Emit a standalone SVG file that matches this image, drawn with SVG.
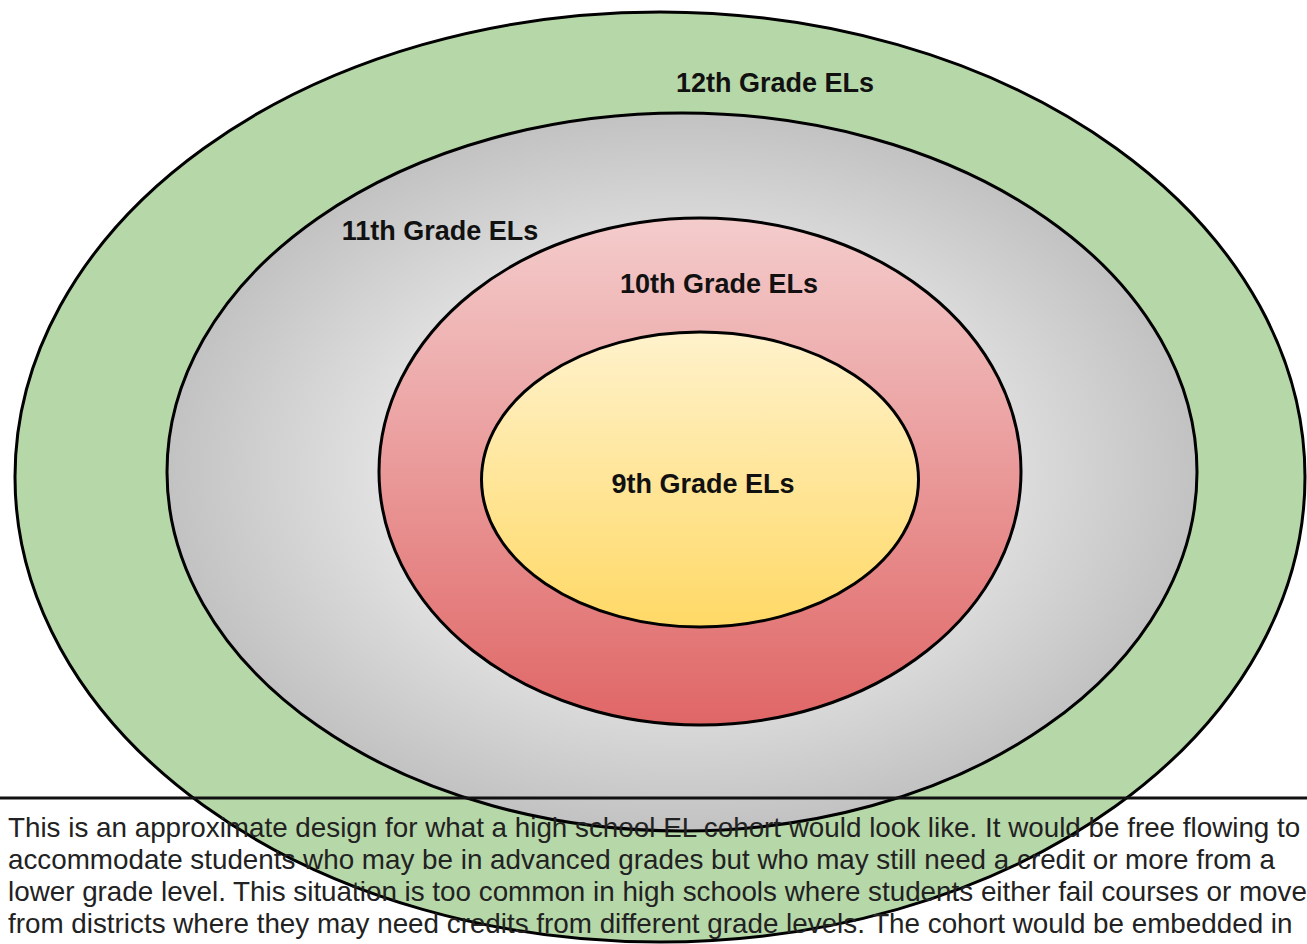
<svg xmlns="http://www.w3.org/2000/svg" width="1307" height="944" viewBox="0 0 1307 944">
  <defs>
    <radialGradient id="gGray" cx="0.5" cy="0.5" r="0.5">
      <stop offset="0" stop-color="#f2f2f2"/>
      <stop offset="0.6" stop-color="#e0e0e0"/>
      <stop offset="1" stop-color="#c2c2c2"/>
    </radialGradient>
    <linearGradient id="gRed" x1="0" y1="0" x2="0" y2="1">
      <stop offset="0" stop-color="#f4cccc"/>
      <stop offset="1" stop-color="#e06666"/>
    </linearGradient>
    <linearGradient id="gYellow" x1="0" y1="0" x2="0" y2="1">
      <stop offset="0" stop-color="#fff2cc"/>
      <stop offset="1" stop-color="#ffd966"/>
    </linearGradient>
  </defs>
  <style>
    .ring { stroke: #000; stroke-width: 3; }
    .label { font-family: "Liberation Sans", Arial, sans-serif; font-weight: bold; font-size: 27px; fill: #111; text-anchor: middle; }
    .body { font-family: "Liberation Sans", Arial, sans-serif; font-size: 27.8px; fill: #222; }
  </style>
  <rect width="1307" height="944" fill="#ffffff"/>
  <g id="grade12">
    <ellipse class="ring" cx="660" cy="477" rx="645" ry="465" fill="#b6d7a8"/>
    <text class="label" x="775" y="92">12th Grade ELs</text>
  </g>
  <g id="grade11">
    <ellipse class="ring" cx="682" cy="472" rx="515" ry="359" fill="url(#gGray)"/>
    <text class="label" x="440" y="240">11th Grade ELs</text>
  </g>
  <g id="grade10">
    <ellipse class="ring" cx="700" cy="471.5" rx="321" ry="253.5" fill="url(#gRed)"/>
    <text class="label" x="719" y="293">10th Grade ELs</text>
  </g>
  <g id="grade9">
    <ellipse class="ring" cx="700" cy="479.5" rx="218.5" ry="147.5" fill="url(#gYellow)"/>
    <text class="label" x="703" y="493">9th Grade ELs</text>
  </g>
  <g id="connectors"></g>
  <g id="note">
    <line x1="0" y1="798" x2="1307" y2="798" stroke="#111" stroke-width="3"/>
    <text class="body" x="8" y="837">This is an approximate design for what a high school EL cohort would look like. It would be free flowing to</text>
    <text class="body" x="8" y="869">accommodate students who may be in advanced grades but who may still need a credit or more from a</text>
    <text class="body" x="8" y="901">lower grade level. This situation is too common in high schools where students either fail courses or move</text>
    <text class="body" x="8" y="933">from districts where they may need credits from different grade levels. The cohort would be embedded in</text>
  </g>
</svg>
